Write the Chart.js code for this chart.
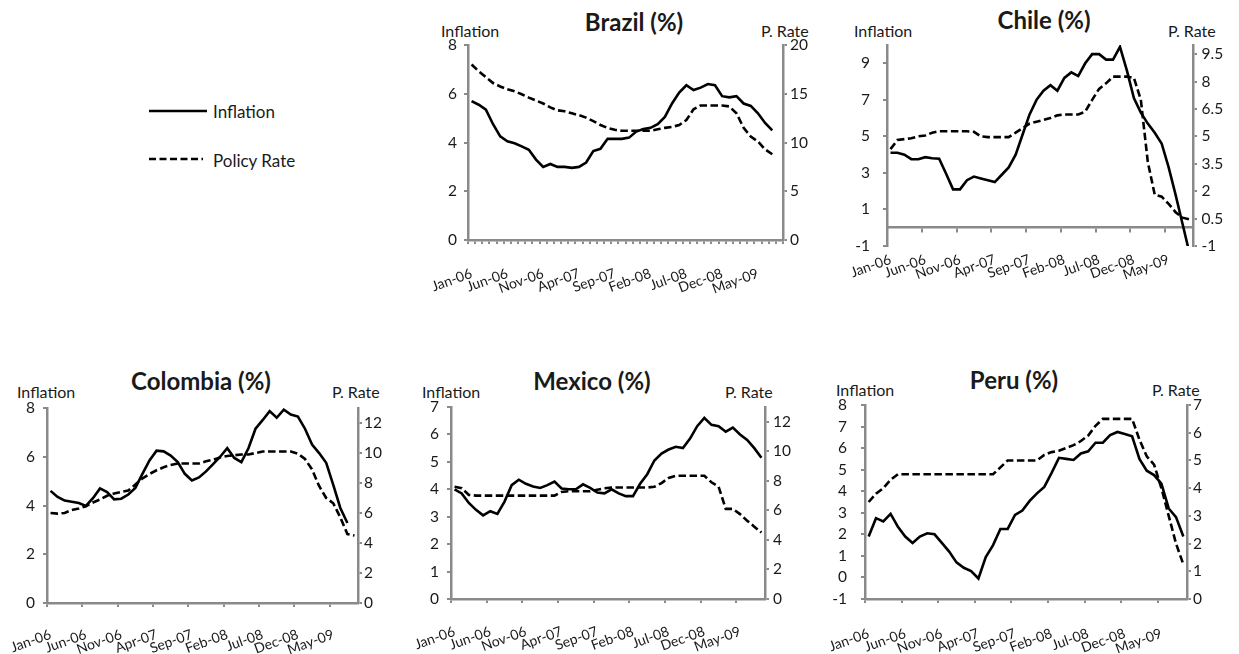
<!DOCTYPE html>
<html>
<head>
<meta charset="utf-8">
<script src="https://cdn.jsdelivr.net/npm/chart.js@4.4.0/dist/chart.umd.min.js"></script>
<style>
  html, body { margin: 0; padding: 0; background: #ffffff; }
  body { width: 1239px; height: 654px; overflow: hidden; position: relative; font-family: Lato, "Open Sans", sans-serif; color: #1a1a1a; }
  canvas { position: absolute; }
  .t { position: absolute; white-space: nowrap; line-height: 1; }
  .title { font-weight: bold; font-size: 24px; transform: translate(-50%, -50%); }
  .hdr { font-size: 16px; transform: translateY(-50%); }
  .leg { font-size: 17px; transform: translateY(-50%); }
  svg { position: absolute; overflow: visible; }
</style>
</head>
<body>
<!-- legend -->
<svg style="left:149px;top:111px" width="60" height="1"><line x1="0" y1="0" x2="58" y2="0" stroke="#000" stroke-width="2.6"/></svg>
<div class="t leg" style="left:213px;top:111px">Inflation</div>
<svg style="left:149px;top:159px" width="60" height="1"><line x1="0" y1="0" x2="54" y2="0" stroke="#000" stroke-width="2.6" stroke-dasharray="7 3.5"/></svg>
<div class="t leg" style="left:213px;top:160px">Policy Rate</div>

<!-- panel texts -->
<div class="t title" style="left:634px;top:22px">Brazil (%)</div>
<div class="t hdr" style="left:441px;top:31px">Inflation</div>
<div class="t hdr" style="left:761px;top:31px">P. Rate</div>

<div class="t title" style="left:1044px;top:20px">Chile (%)</div>
<div class="t hdr" style="left:854px;top:31px">Inflation</div>
<div class="t hdr" style="left:1168px;top:31px">P. Rate</div>

<div class="t title" style="left:201px;top:381px">Colombia (%)</div>
<div class="t hdr" style="left:17px;top:392px">Inflation</div>
<div class="t hdr" style="left:332px;top:392px">P. Rate</div>

<div class="t title" style="left:592px;top:381px">Mexico (%)</div>
<div class="t hdr" style="left:422px;top:392px">Inflation</div>
<div class="t hdr" style="left:725px;top:392px">P. Rate</div>

<div class="t title" style="left:1014px;top:380px">Peru (%)</div>
<div class="t hdr" style="left:836px;top:390px">Inflation</div>
<div class="t hdr" style="left:1152px;top:390px">P. Rate</div>

<script>
// ---------- DATA ----------
const months = [
  'Jan-06','Feb-06','Mar-06','Apr-06','May-06','Jun-06','Jul-06','Aug-06','Sep-06','Oct-06','Nov-06','Dec-06',
  'Jan-07','Feb-07','Mar-07','Apr-07','May-07','Jun-07','Jul-07','Aug-07','Sep-07','Oct-07','Nov-07','Dec-07',
  'Jan-08','Feb-08','Mar-08','Apr-08','May-08','Jun-08','Jul-08','Aug-08','Sep-08','Oct-08','Nov-08','Dec-08',
  'Jan-09','Feb-09','Mar-09','Apr-09','May-09','Jun-09','Jul-09','Aug-09'
];

const brazilInflation = [5.7,5.55,5.35,4.75,4.25,4.05,3.97,3.84,3.7,3.3,3.0,3.12,3.0,3.0,2.96,3.0,3.18,3.65,3.74,4.15,4.15,4.15,4.2,4.45,4.55,4.6,4.75,5.05,5.6,6.05,6.35,6.15,6.25,6.4,6.35,5.9,5.85,5.9,5.6,5.5,5.2,4.8,4.5,null];
const brazilPolicy    = [18.0,17.3,16.7,16.1,15.75,15.45,15.25,14.95,14.6,14.3,14.0,13.6,13.3,13.2,13.0,12.8,12.55,12.2,11.8,11.5,11.3,11.2,11.2,11.2,11.2,11.2,11.35,11.5,11.6,11.8,12.3,13.4,13.8,13.8,13.8,13.8,13.7,13.0,11.5,10.6,10.1,9.3,8.8,null];

const chileInflation  = [4.1,4.1,4.0,3.75,3.75,3.86,3.8,3.78,2.95,2.1,2.1,2.6,2.8,2.7,2.6,2.5,2.9,3.3,4.0,5.1,6.2,7.0,7.5,7.8,7.5,8.2,8.5,8.3,9.0,9.5,9.5,9.2,9.2,9.9,8.6,7.1,6.3,5.7,5.2,4.6,3.3,1.8,0.2,-1.4];
const chilePolicy     = [4.3,4.8,4.85,4.9,5.0,5.05,5.2,5.28,5.28,5.28,5.28,5.28,5.25,5.0,4.96,4.96,4.96,4.96,5.2,5.45,5.7,5.8,5.9,6.0,6.15,6.2,6.2,6.2,6.35,7.0,7.6,7.9,8.27,8.27,8.27,8.2,7.0,3.6,1.8,1.7,1.3,0.85,0.55,0.45];

const colombiaInflation = [4.6,4.35,4.2,4.15,4.1,3.98,4.3,4.7,4.55,4.25,4.28,4.45,4.72,5.3,5.85,6.25,6.22,6.05,5.78,5.3,5.03,5.15,5.4,5.7,6.0,6.35,5.95,5.78,6.35,7.15,7.5,7.87,7.6,7.93,7.73,7.65,7.15,6.5,6.15,5.75,4.85,3.9,3.28,null];
const colombiaPolicy    = [6.0,5.96,6.0,6.2,6.3,6.45,6.7,6.9,7.15,7.3,7.4,7.5,7.9,8.3,8.6,8.85,9.05,9.2,9.3,9.3,9.3,9.3,9.45,9.55,9.7,9.8,9.85,9.9,9.9,10.0,10.1,10.1,10.1,10.1,10.1,9.95,9.6,8.9,7.8,7.0,6.65,5.7,4.6,4.5];

const mexicoInflation = [4.0,3.85,3.5,3.25,3.05,3.2,3.1,3.55,4.15,4.35,4.2,4.1,4.05,4.15,4.28,4.03,4.0,4.0,4.18,4.05,3.88,3.85,4.0,3.85,3.75,3.75,4.2,4.55,5.05,5.3,5.45,5.55,5.5,5.85,6.3,6.6,6.35,6.3,6.1,6.25,6.0,5.8,5.5,5.15];
const mexicoPolicy    = [7.6,7.5,7.05,7.0,7.0,7.0,7.0,7.0,7.0,7.0,7.0,7.0,7.0,7.0,7.0,7.25,7.3,7.3,7.3,7.3,7.4,7.5,7.55,7.55,7.55,7.55,7.55,7.55,7.6,7.85,8.2,8.35,8.35,8.35,8.35,8.35,7.9,7.6,6.1,6.1,5.75,5.3,4.9,4.5];

const peruInflation = [1.9,2.75,2.6,2.95,2.35,1.9,1.6,1.9,2.05,2.0,1.6,1.2,0.7,0.45,0.3,-0.05,0.95,1.5,2.25,2.25,2.9,3.1,3.55,3.9,4.2,4.85,5.55,5.5,5.45,5.75,5.85,6.25,6.25,6.6,6.75,6.65,6.55,5.5,4.95,4.75,4.35,3.2,2.8,1.9];
const peruPolicy    = [3.5,3.8,4.0,4.3,4.5,4.5,4.5,4.5,4.5,4.5,4.5,4.5,4.5,4.5,4.5,4.5,4.5,4.5,4.75,5.0,5.0,5.0,5.0,5.0,5.2,5.3,5.35,5.45,5.55,5.7,5.9,6.25,6.5,6.5,6.5,6.5,6.5,5.75,5.15,4.85,4.0,3.0,2.0,1.25];

// tick labels
const brazilLeftTicks   = [0,2,4,6,8];
const brazilRightTicks  = [0,5,10,15,20];
const chileLeftTicks    = [-1,1,3,5,7,9];
const chileRightTicks   = [-1,0.5,2,3.5,5,6.5,8,9.5];
const colombiaLeftTicks = [0,2,4,6,8];
const colombiaRightTicks= [0,2,4,6,8,10,12];
const mexicoLeftTicks   = [0,1,2,3,4,5,6,7];
const mexicoRightTicks  = [0,2,4,6,8,10,12];
const peruLeftTicks     = [-1,0,1,2,3,4,5,6,7,8];
const peruRightTicks    = [0,1,2,3,4,5,6,7];

// ---------- DRAWING ----------
const GRAY = '#8a8a8a';
const TXT = '#1a1a1a';
Chart.defaults.font.family = "Lato, 'Open Sans', sans-serif";
Chart.defaults.font.size = 15.5;
Chart.defaults.color = TXT;

function makePanel(o) {
  const c = document.createElement('canvas');
  c.width = o.rect.w; c.height = o.rect.h;
  c.style.left = o.rect.x + 'px'; c.style.top = o.rect.y + 'px';
  c.style.width = o.rect.w + 'px'; c.style.height = o.rect.h + 'px';
  document.body.appendChild(c);

  const yLeftW = o.area.l - o.rect.x;
  const yRightW = o.rect.x + o.rect.w - o.area.r;
  const topPad = o.area.t - o.rect.y;
  const xH = o.rect.y + o.rect.h - o.area.b;

  const fixW = w => s => { s.width = w; s.paddingTop = 0; s.paddingBottom = 0; s.paddingLeft = 0; s.paddingRight = 0; };
  const fixH = h => s => { s.height = h; s.paddingLeft = 0; s.paddingRight = 0; s.paddingTop = 0; s.paddingBottom = 0; };
  const majorColor = ctx => (o.monthly || ctx.index % 5 === 0) ? GRAY : 'rgba(0,0,0,0)';
  const xLabel = (v, i) => (i % 5 === 0 ? months[i] : '');

  const yAxis = (side, spec, w) => ({
    type: 'linear', position: side, min: spec.min, max: spec.max,
    afterBuildTicks: s => { s.ticks = spec.ticks.map(v => ({ value: v })); },
    grid: { drawOnChartArea: false, drawTicks: true, tickLength: 4, color: GRAY, lineWidth: 2 },
    border: { display: true, color: GRAY, width: 2.5 },
    ticks: { autoSkip: false, padding: spec.pad, color: TXT, font: { size: 15.5 }, callback: v => String(v) },
    afterFit: fixW(w)
  });

  const scales = {
    x: {
      type: 'category', offset: true,
      grid: { offset: true, display: !o.zeroAxis, drawOnChartArea: false, drawTicks: !o.zeroAxis, tickLength: 4,
              color: majorColor, tickColor: majorColor, lineWidth: 2 },
      border: { display: !o.zeroAxis, color: GRAY, width: 2.5 },
      ticks: { autoSkip: false, minRotation: 20, maxRotation: 20, padding: o.xPad, color: TXT,
               font: { size: 14 }, callback: xLabel },
      afterFit: fixH(xH)
    },
    y: yAxis('left', o.left, yLeftW),
    y1: yAxis('right', o.right, yRightW)
  };
  if (o.zeroAxis) {
    scales.x2 = {
      type: 'category', position: { y: 0 }, offset: true,
      grid: { offset: true, drawOnChartArea: false, drawTicks: true, tickLength: 4,
              color: majorColor, tickColor: majorColor, lineWidth: 2 },
      border: { display: true, color: GRAY, width: 2.5 },
      ticks: { display: false, autoSkip: false, callback: () => '' }
    };
  }

  new Chart(c, {
    type: 'line',
    data: {
      labels: months,
      datasets: [
        { label: 'Inflation', data: o.inflation, yAxisID: 'y', borderColor: '#000', borderWidth: 2.6,
          pointRadius: 0, tension: 0, fill: false },
        { label: 'Policy Rate', data: o.policy, yAxisID: 'y1', borderColor: '#000', borderWidth: 2.6,
          borderDash: [7.5, 3.5], pointRadius: 0, tension: 0, fill: false }
      ]
    },
    options: {
      responsive: false, animation: false, events: [],
      layout: { padding: { top: topPad, left: 0, right: 0, bottom: 0 } },
      plugins: { legend: { display: false }, tooltip: { enabled: false }, title: { display: false } },
      scales
    }
  });
}

makePanel({
  rect: { x: 400, y: 30, w: 430, h: 270 }, area: { l: 468, r: 783, t: 45, b: 240 },
  inflation: brazilInflation, policy: brazilPolicy, monthly: true, xPad: 21,
  left: { min: 0, max: 8, ticks: brazilLeftTicks, pad: 7 },
  right: { min: 0, max: 20, ticks: brazilRightTicks, pad: 3 }
});
makePanel({
  rect: { x: 840, y: 30, w: 399, h: 270 }, area: { l: 887, r: 1193, t: 45, b: 246 },
  inflation: chileInflation, policy: chilePolicy, zeroAxis: true, xPad: 5,
  left: { min: -1, max: 10, ticks: chileLeftTicks, pad: 13 },
  right: { min: -1, max: 10, ticks: chileRightTicks, pad: 4.5 }
});
makePanel({
  rect: { x: 0, y: 390, w: 410, h: 264 }, area: { l: 47, r: 358, t: 408, b: 603 },
  inflation: colombiaInflation, policy: colombiaPolicy, xPad: 19,
  left: { min: 0, max: 8, ticks: colombiaLeftTicks, pad: 8 },
  right: { min: 0, max: 13, ticks: colombiaRightTicks, pad: 2 }
});
makePanel({
  rect: { x: 410, y: 390, w: 410, h: 264 }, area: { l: 451, r: 765, t: 407, b: 599 },
  inflation: mexicoInflation, policy: mexicoPolicy, xPad: 20,
  left: { min: 0, max: 7, ticks: mexicoLeftTicks, pad: 8 },
  right: { min: 0, max: 13, ticks: mexicoRightTicks, pad: 4 }
});
makePanel({
  rect: { x: 820, y: 390, w: 419, h: 264 }, area: { l: 865, r: 1187, t: 405, b: 599 },
  inflation: peruInflation, policy: peruPolicy, xPad: 22,
  left: { min: -1, max: 8, ticks: peruLeftTicks, pad: 14 },
  right: { min: 0, max: 7, ticks: peruRightTicks, pad: 2 }
});
</script>
</body>
</html>
